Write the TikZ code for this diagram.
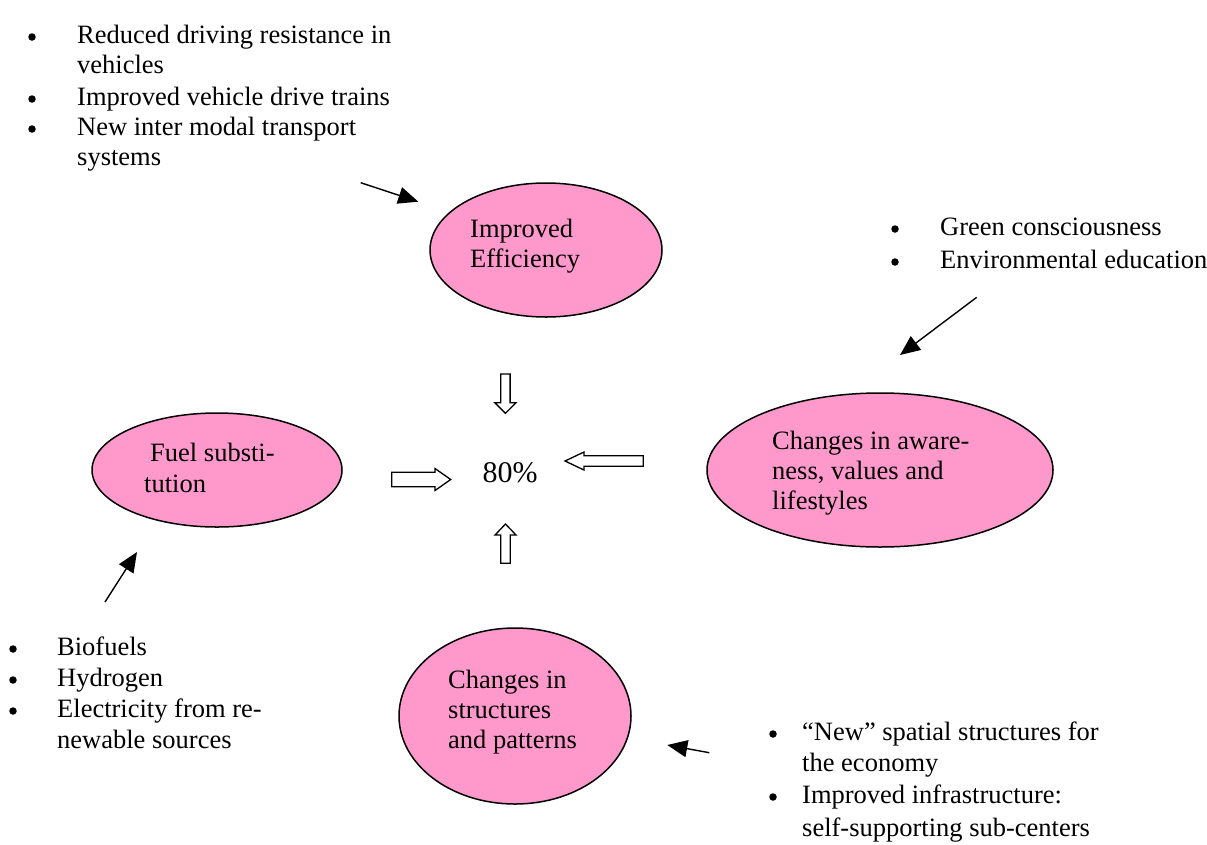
\documentclass[tikz,border=0pt]{standalone}
\usepackage{fontspec}
\setmainfont{Liberation Serif}
\usetikzlibrary{shapes.geometric,arrows.meta}

\definecolor{bubblepink}{RGB}{255,153,204}

\tikzset{
  bubble/.style={ellipse, draw=black, line width=1.5pt, fill=bubblepink, inner sep=0pt},
  txt/.style={anchor=base west, inner sep=0pt, font=\fontsize{26.5}{30.5}\selectfont},
  dot/.style={circle, fill=black, inner sep=0pt, minimum size=7.5pt},
  pointer/.style={line width=1.4pt, -{Triangle[length=20pt,width=17pt]}},
  hollow/.style={draw=black, fill=white, line width=1.3pt, line join=miter},
}

\begin{document}
\begin{tikzpicture}[x=1pt,y=-1pt]
\useasboundingbox (0,0) rectangle (1207,844);

% ---- the four measures ----
\node[bubble, minimum width=232pt, minimum height=134pt] (eff) at (546,250) {};
\node[txt] (effA) at (470,237) {Improved};
\node[txt] (effB) at (470,267) {Efficiency};

\node[bubble, minimum width=346pt, minimum height=154pt] (aware) at (880,470) {};
\node[txt] (awA) at (772,449) {Changes in aware-};
\node[txt] (awB) at (772,479) {ness, values and};
\node[txt] (awC) at (772,509) {lifestyles};

\node[bubble, minimum width=250pt, minimum height=114pt] (fuel) at (217,470) {};
\node[txt] (fuA) at (150,461) {Fuel substi-};
\node[txt] (fuB) at (144,492) {tution};

\node[bubble, minimum width=232pt, minimum height=176pt] (struct) at (515,716) {};
\node[txt] (stA) at (448,688) {Changes in};
\node[txt] (stB) at (448,718) {structures};
\node[txt] (stC) at (448,748) {and patterns};

% ---- target in the middle ----
\node[inner sep=0pt, font=\fontsize{30}{34}\selectfont] (goal) at (510,473) {80\%};

% ---- hollow block arrows pointing at the target ----
\draw[hollow] (500.7,374) -- (510.1,374) -- (510.1,402.7) -- (516,402.7)
  -- (505.4,413.3) -- (494.8,402.7) -- (500.7,402.7) -- cycle;
\draw[hollow] (505.5,524) -- (516,535) -- (510.2,535) -- (510.2,563.3)
  -- (500.8,563.3) -- (500.8,535) -- (495,535) -- cycle;
\draw[hollow] (391.7,472.3) -- (435,472.3) -- (435,468.5) -- (450.7,479.5)
  -- (435,490.5) -- (435,486.7) -- (391.7,486.7) -- cycle;
\draw[hollow] (565,461) -- (584,452) -- (584,455.8) -- (643.3,455.8)
  -- (643.3,466.2) -- (584,466.2) -- (584,470) -- cycle;

% ---- lists of contributing factors ----
\node[dot] (b1) at (32,37) {};
\node[txt] (l1a) at (77,43) {Reduced driving resistance in};
\node[txt] (l1b) at (77,73) {vehicles};
\node[dot] (b2) at (32,99) {};
\node[txt] (l2) at (77,105) {Improved vehicle drive trains};
\node[dot] (b3) at (32,129) {};
\node[txt] (l3a) at (77,135) {New inter modal transport};
\node[txt] (l3b) at (77,165) {systems};

\node[dot] (b4) at (895,229) {};
\node[txt] (l4) at (940,235) {Green consciousness};
\node[dot] (b5) at (895,262) {};
\node[txt] (l5) at (940,268) {Environmental education};

\node[dot] (b6) at (13,649) {};
\node[txt] (l6) at (57,655) {Biofuels};
\node[dot] (b7) at (13,680) {};
\node[txt] (l7) at (57,686) {Hydrogen};
\node[dot] (b8) at (13,711) {};
\node[txt] (l8a) at (57,717) {Electricity from re-};
\node[txt] (l8b) at (57,748) {newable sources};

\node[dot] (b9) at (773,734) {};
\node[txt] (l9a) at (802,740) {“New” spatial structures for};
\node[txt] (l9b) at (802,771) {the economy};
\node[dot] (b10) at (773,797) {};
\node[txt] (l10a) at (802,803) {Improved infrastructure:};
\node[txt] (l10b) at (802,836) {self-supporting sub-centers};

% ---- pointers from the lists to the measures ----
\coordinate (pA) at (360.7,182.7);
\coordinate (qA) at (418.3,201.7);
\coordinate (pB) at (976.7,297.3);
\coordinate (qB) at (900,355);
\coordinate (pC) at (105,602);
\coordinate (qC) at (137,552);
\coordinate (pD) at (709.3,752.7);
\coordinate (qD) at (667.3,745);
\draw[pointer] (pA) -- (qA);
\draw[pointer] (pB) -- (qB);
\draw[pointer] (pC) -- (qC);
\draw[pointer] (pD) -- (qD);
\end{tikzpicture}
\end{document}
